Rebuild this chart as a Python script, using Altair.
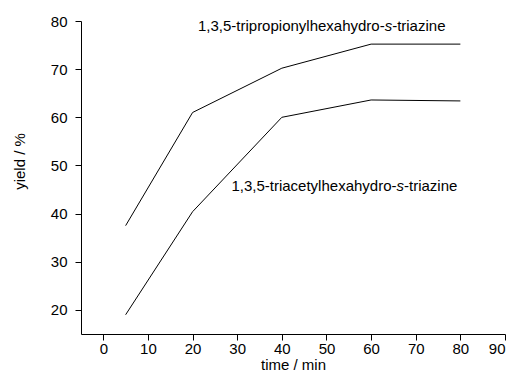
import altair as alt
import pandas as pd

# data
time_min = [5, 20, 40, 60, 80]
yield_tripropionyl = [37.5, 61.0, 70.2, 75.2, 75.2]
yield_triacetyl = [19.0, 40.4, 60.0, 63.6, 63.4]
series_names = ["1,3,5-tripropionylhexahydro-s-triazine",
                "1,3,5-triacetylhexahydro-s-triazine"]

x_ticks = [0, 10, 20, 30, 40, 50, 60, 70, 80, 90]
y_ticks = [20, 30, 40, 50, 60, 70, 80]

# label pieces (prefix, italic letter, suffix) and anchor positions in data units
label_prefix = ["1,3,5-tripropionylhexahydro-", "1,3,5-triacetylhexahydro-"]
label_italic = ["s", "s"]
label_suffix = ["-triazine", "-triazine"]
label_x = [21.2, 28.7]
label_y = [77.9, 44.75]

FONT = "Liberation Sans"
FS = 15

rows = []
for name, ys in zip(series_names, [yield_tripropionyl, yield_triacetyl]):
    for t, v in zip(time_min, ys):
        rows.append({"series": name, "time": t, "yield": v})
df = pd.DataFrame(rows)

lab = pd.DataFrame({"prefix": label_prefix, "ital": label_italic,
                    "suffix": label_suffix, "x": label_x, "y": label_y})

xscale = alt.Scale(domain=[-5, 90], nice=False, zero=False)
yscale = alt.Scale(domain=[15, 80], nice=False, zero=False)

lines = alt.Chart(df).mark_line(color="black", strokeWidth=1).encode(
    x=alt.X("time:Q", scale=xscale,
            axis=alt.Axis(title="time / min", values=x_ticks,
                          labelPadding=1, titlePadding=1)),
    y=alt.Y("yield:Q", scale=yscale,
            axis=alt.Axis(title="yield / %", values=y_ticks,
                          labelPadding=8, titleX=-54, titleY=140)),
    detail="series:N",
)

# widths of prefixes at 15px Liberation Sans (Arial metrics)
prefix_w = [186.7, 165.1]
texts = []
for i in range(2):
    sub = lab.iloc[[i]]
    for field, dx, style in [("prefix", 0, "normal"),
                             ("ital", prefix_w[i], "italic"),
                             ("suffix", prefix_w[i] + 7.5, "normal")]:
        texts.append(alt.Chart(sub).mark_text(
            align="left", baseline="alphabetic", font=FONT, fontSize=FS,
            color="black", dx=dx, fontStyle=style
        ).encode(x=alt.X("x:Q", scale=xscale), y=alt.Y("y:Q", scale=yscale),
                 text=f"{field}:N"))

chart = alt.layer(lines, *texts).properties(
    width=424, height=313,
    autosize=alt.AutoSizeParams(type="none"),
    padding={"left": 73, "top": 13, "right": 3, "bottom": 45},
    background="white",
).configure_view(stroke=None).configure_axis(
    grid=False, domainColor="black", tickColor="black", tickSize=6,
    labelFont=FONT, labelFontSize=FS, labelColor="black",
    titleFont=FONT, titleFontSize=FS, titleFontWeight=400, titleColor="black",
)

chart.save("out.html", embed_options={"renderer": "svg", "actions": False})
